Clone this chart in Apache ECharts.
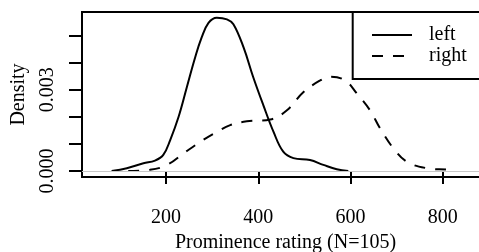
<!DOCTYPE html>
<html>
<head>
<meta charset="utf-8">
<script src="https://cdn.jsdelivr.net/npm/echarts@6/dist/echarts.min.js"></script>
<style>
  html, body { margin: 0; padding: 0; background: #fff; }
  #chart { width: 479px; height: 252px; }
</style>
</head>
<body>
<div id="chart"></div>
<script>
// density estimates
const leftX = [82, 115, 151, 176, 194, 209, 227, 245, 263, 277, 292, 310, 332, 346, 368, 389, 411, 433, 454, 476, 512, 541, 570, 595];
const leftY = [0, 0.0001, 0.00028, 0.00038, 0.00059, 0.00114, 0.00199, 0.00309, 0.00419, 0.00492, 0.00547, 0.00566, 0.0056, 0.00542, 0.00456, 0.00346, 0.00242, 0.00144, 0.00071, 0.00047, 0.0004, 0.00022, 0.00006, 0];
const rightX = [118, 165, 202, 238, 274, 310, 339, 375, 426, 462, 498, 534, 556, 588, 614, 642, 664, 693, 722, 765, 812, 822];
const rightY = [0, 0.00004, 0.00022, 0.00065, 0.00107, 0.00144, 0.00169, 0.00183, 0.0019, 0.00224, 0.00291, 0.00334, 0.00348, 0.00334, 0.00285, 0.00224, 0.00157, 0.00083, 0.00034, 0.0001, 0.00004, 0];
const xTicks = [200, 400, 600, 800];
const yTicks = [0, 0.001, 0.002, 0.003, 0.004, 0.005];
const yLabels = [0, 0.003];

const chart = echarts.init(document.getElementById('chart'));
const font = 'Liberation Serif';

function zip(xs, ys) {
    return xs.map((x, i) => [x, ys[i]]);
}

chart.setOption({
    animation: false,
    color: ['#000', '#000'],
    textStyle: { fontFamily: font, color: '#000' },
    grid: {
        left: 82, top: 12, width: 407, height: 165,
        outerBoundsMode: 'none', containLabel: false,
        show: true, borderColor: '#000', borderWidth: 2
    },
    xAxis: {
        type: 'value', min: 17.8, max: 900,
        axisLine: { show: false },
        splitLine: { show: false },
        axisTick: { show: true, length: 13, lineStyle: { color: '#000', width: 2 }, customValues: xTicks },
        axisLabel: { margin: 31, fontSize: 20, fontFamily: font, color: '#000', customValues: xTicks },
        name: 'Prominence rating (N=105)',
        nameLocation: 'middle', nameGap: 55,
        nameTextStyle: { fontSize: 20, fontFamily: font, color: '#000' }
    },
    yAxis: {
        type: 'value', min: -0.000226, max: 0.00587,
        axisLine: { show: false },
        splitLine: { show: false },
        axisTick: { show: true, length: 13, lineStyle: { color: '#000', width: 2 }, customValues: yTicks },
        axisLabel: {
            rotate: 90, margin: 24, fontSize: 20, fontFamily: font, color: '#000',
            customValues: yLabels,
            formatter: v => v.toFixed(3)
        },
        name: 'Density',
        nameLocation: 'middle', nameGap: 53,
        nameTextStyle: { fontSize: 20, fontFamily: font, color: '#000' }
    },
    legend: {
        orient: 'vertical', left: 371, top: 25, z: 20, padding: 0,
        itemWidth: 40, itemHeight: 16, itemGap: 1,
        itemStyle: { opacity: 0 },
        textStyle: { fontSize: 20, lineHeight: 18, fontFamily: font, color: '#000', padding: [0, 0, 0, 12] },
        data: ['left', 'right']
    },
    graphic: [{
        type: 'rect', z: 10,
        shape: { x: 352.7, y: 12, width: 200, height: 67 },
        style: { fill: '#fff', stroke: '#000', lineWidth: 2 }
    }],
    series: [
        {
            name: 'left', type: 'line', data: zip(leftX, leftY),
            symbol: 'none', smooth: 0.4,
            itemStyle: { color: '#000' },
            lineStyle: { color: '#000', width: 2 },
            markLine: {
                silent: true, symbol: 'none', label: { show: false },
                lineStyle: { color: '#c8c8c8', width: 1, type: 'solid' },
                data: [{ yAxis: 0 }]
            },
            z: 3
        },
        {
            name: 'right', type: 'line', data: zip(rightX, rightY),
            symbol: 'none', smooth: 0.4,
            itemStyle: { color: '#000' },
            lineStyle: { color: '#000', width: 2, type: [11, 10] },
            z: 3
        }
    ]
});
</script>
</body>
</html>
